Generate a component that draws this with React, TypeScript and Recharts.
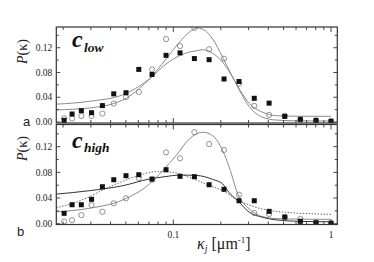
import React from 'react';
import { ComposedChart, Line, Scatter, XAxis, YAxis } from 'recharts';

// ---- data ----
const kappa = [0.0203, 0.0228, 0.0261, 0.0303, 0.0355, 0.0419, 0.0501, 0.0604, 0.0733, 0.0899, 0.1103, 0.136, 0.1686, 0.2097, 0.261, 0.326, 0.405, 0.509, 0.639, 0.803, 1.0];

const lowSquares = [0.0027, 0.0129, 0.0183, 0.015, 0.0265, 0.0455, 0.0473, 0.085, 0.0768, 0.1077, 0.1117, 0.1025, 0.1007, 0.0695, 0.0654, 0.0383, 0.0305, 0.009, 0.0044, 0.0027, 0.0011];
const lowCircles = [0.006, 0.0056, 0.0097, 0.0097, 0.0137, 0.0298, 0.040, 0.0485, 0.085, 0.134, 0.1228, 0.152, 0.1176, 0.1023, 0.062, 0.0261, 0.0115, 0.0102, 0.0036, 0.0022, 0.0011];
const highSquares = [0.0162, 0.0296, 0.0296, 0.038, 0.0576, 0.0685, 0.0748, 0.0763, 0.0696, 0.0841, 0.0738, 0.0732, 0.0607, 0.0536, 0.0358, 0.0358, 0.0193, 0.0104, 0.0037, 0.0016, 0.0006];
const highCircles = [0.0035, 0.0056, 0.0134, 0.029, 0.0187, 0.0318, 0.0396, 0.071, 0.0685, 0.111, 0.1019, 0.1424, 0.124, 0.1148, 0.0452, 0.0167, 0.0151, 0.0104, 0.0075, 0.0025, 0.001];

// fitted curves
const lowFitCirclesX = [0.0181, 0.0293, 0.0478, 0.0609, 0.0705, 0.0899, 0.1091, 0.1263, 0.1407, 0.1536, 0.1778, 0.2057, 0.238, 0.262, 0.3033, 0.3688, 0.4478, 0.636, 1.0];
const lowFitCirclesY = [0.0196, 0.0226, 0.0355, 0.054, 0.0695, 0.1018, 0.1287, 0.145, 0.152, 0.150, 0.134, 0.1045, 0.0722, 0.0533, 0.030, 0.0157, 0.0102, 0.0093, 0.0092];
const lowFitSquaresX = [0.0181, 0.0293, 0.0478, 0.0609, 0.0705, 0.0899, 0.1091, 0.1263, 0.1407, 0.1536, 0.1778, 0.2057, 0.238, 0.262, 0.3033, 0.3688, 0.4478, 0.636, 1.0];
const lowFitSquaresY = [0.0288, 0.0334, 0.044, 0.058, 0.0695, 0.0937, 0.107, 0.113, 0.1152, 0.1168, 0.111, 0.0964, 0.0722, 0.052, 0.0247, 0.0076, 0.0032, 0.0018, 0.0016];

const highFitCirclesX = [0.0181, 0.0293, 0.0478, 0.0705, 0.0857, 0.104, 0.1263, 0.1536, 0.1778, 0.2057, 0.2265, 0.2562, 0.3033, 0.3688, 0.4478, 0.636, 1.0];
const highFitCirclesY = [0.0185, 0.024, 0.037, 0.0618, 0.0826, 0.106, 0.132, 0.1424, 0.137, 0.1137, 0.0879, 0.0463, 0.0229, 0.0109, 0.008, 0.0071, 0.0069];
const highFitSquaresX = [0.0181, 0.0293, 0.0478, 0.0705, 0.0899, 0.1091, 0.1407, 0.1778, 0.2057, 0.2265, 0.2562, 0.3033, 0.3688, 0.4478, 0.636, 1.0];
const highFitSquaresY = [0.0461, 0.0514, 0.0592, 0.0696, 0.0735, 0.0758, 0.0752, 0.069, 0.0618, 0.048, 0.0358, 0.0178, 0.010, 0.006, 0.0037, 0.0031];
const highFitDottedX = [0.0181, 0.0232, 0.0293, 0.0374, 0.0478, 0.0609, 0.0777, 0.0991, 0.1263, 0.1612, 0.2057, 0.2562, 0.3345, 0.4478, 1.0];
const highFitDottedY = [0.025, 0.032, 0.042, 0.055, 0.066, 0.0755, 0.081, 0.080, 0.0723, 0.0618, 0.0514, 0.0369, 0.0255, 0.0193, 0.0146];

const xTicks = [0.02, 0.03, 0.04, 0.05, 0.06, 0.07, 0.08, 0.09, 0.1, 0.2, 0.3, 0.4, 0.5, 0.6, 0.7, 0.8, 0.9, 1];
const yTicks = [0, 0.02, 0.04, 0.06, 0.08, 0.1, 0.12, 0.14];

const pts = (xs: number[], ys: number[]) => xs.map((x, i) => ({ x, y: ys[i] }));

// ---- layout ----
const W = 374;
const H = 262;
const PL = 56.3;
const PR = 337.3;
const XMIN = 0.01811;
const XMAX = 1.096;
const AX = '#333';
const SERIF = '"Liberation Serif", "Times New Roman", serif';

const isMajorX = (v: number) => Math.abs(Math.log10(v) - Math.round(Math.log10(v))) < 1e-6;
const isMajorY = (v: number) => Math.abs(v / 0.04 - Math.round(v / 0.04)) < 1e-6;

const makeXTick = (plotH: number, labels: boolean) => (p: any) => {
  const { x, y, payload } = p;
  const v = payload.value;
  const major = isMajorX(v);
  const len = major ? 5 : 3;
  return (
    <g>
      <line x1={x} x2={x} y1={y} y2={y - len} stroke={AX} strokeWidth={0.9} />
      <line x1={x} x2={x} y1={y - plotH} y2={y - plotH + len} stroke={AX} strokeWidth={0.9} />
      {labels && major ? (
        <text x={x} y={y + 13} textAnchor="middle" fontFamily={SERIF} fontSize={9.5} fill="#222">
          {v >= 1 ? '1' : '0.1'}
        </text>
      ) : null}
    </g>
  );
};

const makeYTick = () => (p: any) => {
  const { x, y, payload } = p;
  const v = payload.value;
  const major = isMajorY(v);
  const len = major ? 4 : 2.5;
  const pw = PR - PL;
  return (
    <g>
      <line x1={x} x2={x + len} y1={y} y2={y} stroke={AX} strokeWidth={0.9} />
      <line x1={x + pw} x2={x + pw - len} y1={y} y2={y} stroke={AX} strokeWidth={0.9} />
      {major ? (
        <text x={x - 4} y={y + 3.2} textAnchor="end" fontFamily={SERIF} fontSize={9.5} fill="#222">
          {v.toFixed(2)}
        </text>
      ) : null}
    </g>
  );
};

const Square = (p: any) => <rect x={p.cx - 2.5} y={p.cy - 2.5} width={5} height={5} fill="#111" />;
const Circle = (p: any) => <circle cx={p.cx} cy={p.cy} r={2.6} fill="none" stroke="#777" strokeWidth={0.8} />;

type Fit = { data: { x: number; y: number }[]; color: string; dash?: string; width?: number };

function Panel(props: {
  top: number;
  plotH: number;
  yDomain: [number, number];
  squares: number[];
  circles: number[];
  fits: Fit[];
  labels: boolean;
}) {
  const { top, plotH, yDomain, squares, circles, fits, labels } = props;
  const bottom = H - top - plotH;
  return (
    <div style={{ position: 'absolute', left: 0, top: 0 }}>
      <ComposedChart
        width={W}
        height={H}
        margin={{ top, left: 0, right: W - PR, bottom: 0 }}
      >
        <XAxis
          dataKey="x"
          type="number"
          scale="log"
          domain={[XMIN, XMAX]}
          allowDataOverflow
          ticks={xTicks}
          interval={0}
          height={bottom}
          axisLine={false}
          tickLine={false}
          tickSize={0}
          tickMargin={0}
          tick={makeXTick(plotH, labels)}
        />
        <YAxis
          dataKey="y"
          type="number"
          domain={yDomain}
          allowDataOverflow
          ticks={yTicks}
          interval={0}
          width={PL}
          axisLine={false}
          tickLine={false}
          tickSize={0}
          tickMargin={0}
          tick={makeYTick()}
        />
        {fits.map((f, i) => (
          <Line
            key={i}
            data={f.data}
            dataKey="y"
            type="monotone"
            dot={false}
            stroke={f.color}
            strokeWidth={f.width ?? 1}
            strokeDasharray={f.dash}
            isAnimationActive={false}
          />
        ))}
        <Scatter data={pts(kappa, circles)} dataKey="y" shape={Circle} isAnimationActive={false} />
        <Scatter data={pts(kappa, squares)} dataKey="y" shape={Square} isAnimationActive={false} />
      </ComposedChart>
    </div>
  );
}

export default function App() {
  const topT = 27;
  const topH = 96;
  const botT = 124.5;
  const botH = 100;
  return (
    <div style={{ position: 'absolute', left: 0, top: 0, width: W, height: H, background: '#fff' }}>
      <Panel
        top={topT}
        plotH={topH}
        yDomain={[-0.0016, 0.1535]}
        squares={lowSquares}
        circles={lowCircles}
        labels={false}
        fits={[
          { data: pts(lowFitCirclesX, lowFitCirclesY), color: '#8a8a8a' },
          { data: pts(lowFitSquaresX, lowFitSquaresY), color: '#8a8a8a' },
        ]}
      />
      <Panel
        top={botT}
        plotH={botH}
        yDomain={[-0.0012, 0.1545]}
        squares={highSquares}
        circles={highCircles}
        labels={true}
        fits={[
          { data: pts(highFitCirclesX, highFitCirclesY), color: '#8a8a8a' },
          { data: pts(highFitDottedX, highFitDottedY), color: '#666', dash: '1.5 1.5' },
          { data: pts(highFitSquaresX, highFitSquaresY), color: '#333' },
        ]}
      />
      <svg width={W} height={H} style={{ position: 'absolute', left: 0, top: 0, pointerEvents: 'none' }}>
        <rect x={PL} y={topT} width={PR - PL} height={topH} fill="none" stroke={AX} strokeWidth={1.2} />
        <rect x={PL} y={botT} width={PR - PL} height={botH} fill="none" stroke={AX} strokeWidth={1.2} />
        <g fontFamily={SERIF} fill="#111">
          <text x={72} y={47} fontSize={24} fontWeight="bold" fontStyle="italic">c</text>
          <text x={84} y={51.5} fontSize={13.5} fontWeight="bold" fontStyle="italic">low</text>
          <text x={72} y={147.5} fontSize={24} fontWeight="bold" fontStyle="italic">c</text>
          <text x={84} y={152} fontSize={13.5} fontWeight="bold" fontStyle="italic">high</text>
        </g>
        <g fontFamily={SERIF} fontSize={14} fill="#222">
          <text transform="translate(26.5,51.5) rotate(-90)" textAnchor="middle">
            <tspan fontStyle="italic">P</tspan>(κ)
          </text>
          <text transform="translate(26.5,148.5) rotate(-90)" textAnchor="middle">
            <tspan fontStyle="italic">P</tspan>(κ)
          </text>
          <text x={197} y={249} fontSize={16}>
            <tspan fontStyle="italic">κ</tspan>
            <tspan fontSize={10} fontStyle="italic" dy={3}>j</tspan>
            <tspan dy={-3}> [μm</tspan>
            <tspan fontSize={9} dy={-6}>-1</tspan>
            <tspan dy={6}>]</tspan>
          </text>
        </g>
        <g fontFamily='"Liberation Sans", Arial, sans-serif' fontSize={13} fill="#222">
          <text x={23} y={126}>a</text>
          <text x={17} y={236}>b</text>
        </g>
      </svg>
    </div>
  );
}
